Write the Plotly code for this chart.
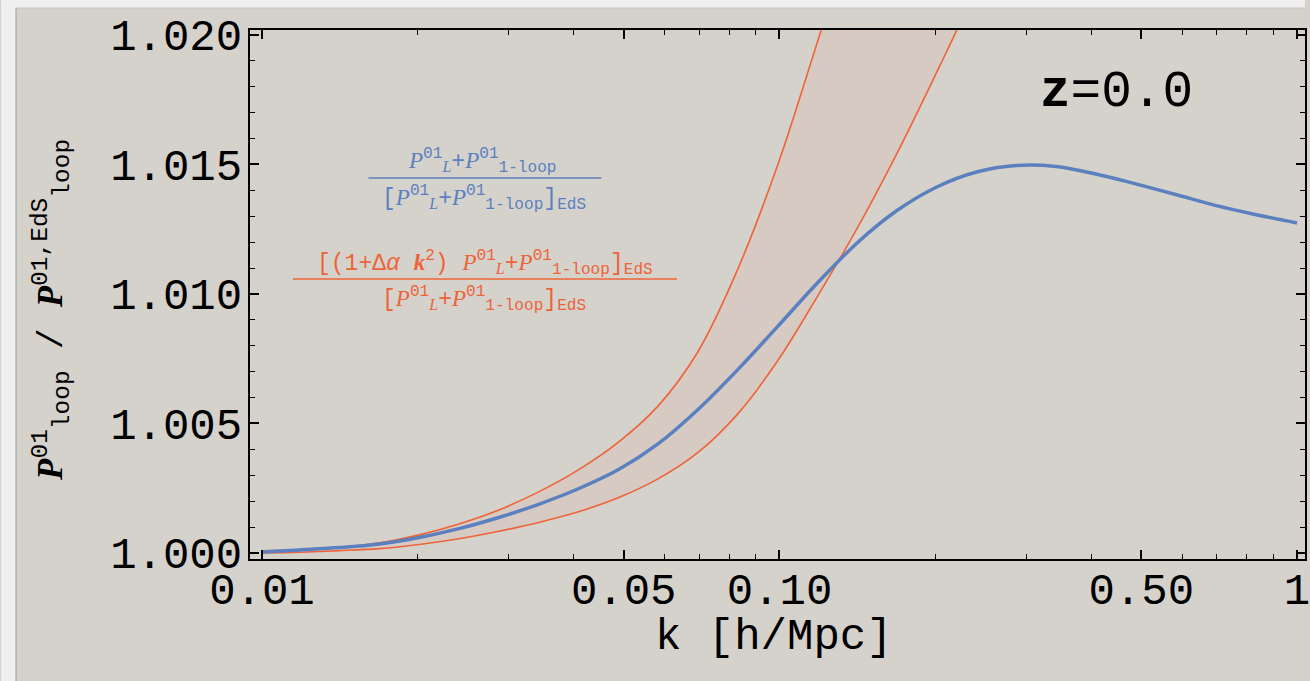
import plotly.graph_objects as go

# ---------------- data ----------------
k_blue = [0.01, 0.011834, 0.014125, 0.016865, 0.020131, 0.02403, 0.028683, 0.03424, 0.040871,
          0.048786, 0.058236, 0.069516, 0.082982, 0.099118, 0.11834, 0.14125, 0.16865, 0.20131,
          0.2403, 0.28683, 0.3424, 0.40871, 0.48786, 0.58236, 0.69516, 0.82982, 1.0]
r_blue = [1.00004, 1.00012, 1.00021, 1.00035, 1.0006, 1.00094, 1.00137, 1.00188, 1.00248,
          1.00321, 1.00421, 1.00553, 1.00707, 1.00874, 1.01042, 1.01197, 1.01322, 1.01413,
          1.01471, 1.01496, 1.01492, 1.01463, 1.01425, 1.01384, 1.01342, 1.01307, 1.01274]

k_upper = [0.01, 0.011834, 0.014125, 0.016865, 0.020131, 0.02403, 0.028683, 0.03424, 0.040871,
           0.048786, 0.058236, 0.069516, 0.082982, 0.099118, 0.11834, 0.12925]
r_upper = [1.00008, 1.00012, 1.00021, 1.00039, 1.0007, 1.00112, 1.00166, 1.00236, 1.00321,
           1.00427, 1.00567, 1.00776, 1.01094, 1.01496, 1.01972, 1.02211]

k_lower = [0.01, 0.011834, 0.014125, 0.016865, 0.020131, 0.02403, 0.028683, 0.03424, 0.040871,
           0.048786, 0.058236, 0.069516, 0.082982, 0.099118, 0.11834, 0.14125, 0.16865, 0.20131, 0.2403]
r_lower = [1.0, 1.00003, 1.00009, 1.00017, 1.00033, 1.00055, 1.00084, 1.00118, 1.00159,
           1.00213, 1.00286, 1.00387, 1.00536, 1.00741, 1.00990, 1.01253, 1.01543, 1.01856, 1.0218]

x_tickvals = [0.01, 0.05, 0.1, 0.5, 1.0]
x_ticktext = ["0.01", "0.05", "0.10", "0.50", "1"]
x_minor = [0.02, 0.03, 0.04, 0.06, 0.07, 0.08, 0.09, 0.2, 0.3, 0.4, 0.6, 0.7, 0.8, 0.9]
y_tickvals = [1.000, 1.005, 1.010, 1.015, 1.020]
y_ticktext = ["1.000", "1.005", "1.010", "1.015", "1.020"]

# ---------------- styling ----------------
BLUE = "#5b80bf"
ORANGE = "#ee6338"
BG = "#d5d2cc"
MONO = "Liberation Mono"
SERIF = "Liberation Serif"

W, H = 1310, 681
L, R, T, B = 250, 0, 30, 122
PW, PH = W - L - R, H - T - B


def px(x):
    return (x - L) / PW


def py(y):
    return (H - B - y) / PH


fig = go.Figure()

# shaded band between the orange curves
fig.add_trace(go.Scatter(
    x=k_upper + k_lower[::-1], y=r_upper + r_lower[::-1],
    fill="toself", fillcolor="rgba(236,140,110,0.10)", line=dict(width=0),
    mode="lines", hoverinfo="skip", showlegend=False))

spl = dict(shape="spline", smoothing=1.0)
fig.add_trace(go.Scatter(x=k_upper, y=r_upper, mode="lines",
                         line=dict(color=ORANGE, width=1.6, **spl), showlegend=False))
fig.add_trace(go.Scatter(x=k_lower, y=r_lower, mode="lines",
                         line=dict(color=ORANGE, width=1.6, **spl), showlegend=False))
fig.add_trace(go.Scatter(x=k_blue, y=r_blue, mode="lines",
                         line=dict(color=BLUE, width=3.5, **spl), showlegend=False))


def P(sup, sub):
    return (f"<span style='font-family:{SERIF}'><i>P</i></span>"
            f"<sup>{sup}</sup><sub>{sub}</sub>")


def PL():
    return (f"<span style='font-family:{SERIF}'><i>P</i></span>"
            f"<sup>01</sup><sub><span style='font-family:{SERIF}'><i>L</i></span></sub>")


blue_num = PL() + "+" + P("01", "1-loop")
blue_den = "[" + PL() + "+" + P("01", "1-loop") + "]<sub>EdS</sub>"
orange_num = ("[(1+Δ<i>α</i> <span style='font-family:" + SERIF + "'><b><i>k</i></b></span><sup>2</sup>) "
              + PL() + "+" + P("01", "1-loop") + "]<sub>EdS</sub>")
orange_den = blue_den

ann = []
fs = 23
ann.append(dict(x=px(484), y=py(161), text=blue_num, font=dict(family=MONO, size=fs, color=BLUE)))
ann.append(dict(x=px(485), y=py(198), text=blue_den, font=dict(family=MONO, size=fs, color=BLUE)))
ann.append(dict(x=px(486), y=py(263), text=orange_num, font=dict(family=MONO, size=fs, color=ORANGE)))
ann.append(dict(x=px(485), y=py(299), text=orange_den, font=dict(family=MONO, size=fs, color=ORANGE)))

# z label
ann.append(dict(x=px(1121), y=py(92), text="<b>z</b>=0.0", font=dict(family=MONO, size=51, color="black")))

# axis titles
ann.append(dict(x=px(776), y=py(637), text="k [h/Mpc]", font=dict(family=MONO, size=44, color="black")))
ytitle = (f"<span style='font-family:{SERIF}'><b><i>P</i></b></span><sup>01</sup><sub>loop</sub>"
          f" / <span style='font-family:{SERIF}'><b><i>P</i></b></span><sup>01,EdS</sup><sub>loop</sub>")
ann.append(dict(x=px(50), y=py(310), text=ytitle, textangle=-90, font=dict(family=MONO, size=35, color="black")))

for a in ann:
    a.update(xref="paper", yref="paper", showarrow=False, xanchor="center", yanchor="middle")

shapes = [
    # outer light border (left & top strip)
    dict(type="rect", xref="paper", yref="paper", x0=px(0), x1=px(15), y0=py(H), y1=py(0),
         fillcolor="#efefef", line=dict(width=0), layer="below"),
    dict(type="rect", xref="paper", yref="paper", x0=px(0), x1=px(W), y0=py(8), y1=py(0),
         fillcolor="#efefef", line=dict(width=0), layer="below"),
    dict(type="line", xref="paper", yref="paper", x0=px(15), x1=px(15), y0=py(H), y1=py(8),
         line=dict(color="#b0b0b0", width=1.5)),
    dict(type="line", xref="paper", yref="paper", x0=px(15), x1=px(W), y0=py(8), y1=py(8),
         line=dict(color="#c4c4c4", width=1)),
    # fraction bars
    dict(type="line", xref="paper", yref="paper", x0=px(369), x1=px(603), y0=py(178), y1=py(178),
         line=dict(color=BLUE, width=1.5)),
    dict(type="line", xref="paper", yref="paper", x0=px(293), x1=px(679), y0=py(279), y1=py(279),
         line=dict(color=ORANGE, width=1.5)),
]

axis_common = dict(showline=True, linecolor="black", linewidth=2, mirror="allticks",
                   ticks="inside", ticklen=9, tickwidth=1.5, tickcolor="black",
                   showgrid=False, zeroline=False, ticklabeloverflow="allow",
                   tickfont=dict(family=MONO, size=44, color="black"))

fig.update_layout(
    width=W, height=H,
    margin=dict(l=L, r=R, t=T, b=B, pad=0),
    paper_bgcolor=BG, plot_bgcolor=BG,
    xaxis=dict(type="log", range=[-2.0231, 0.0154], tickmode="array",
               tickvals=x_tickvals, ticktext=x_ticktext, ticklabelstandoff=-10,
               minor=dict(tickmode="array", tickvals=x_minor, ticks="inside", ticklen=5,
                          tickwidth=1, tickcolor="black"),
               **axis_common),
    yaxis=dict(range=[0.999768, 1.02019], tickmode="array",
               tickvals=y_tickvals, ticktext=y_ticktext, ticklabelstandoff=-3,
               minor=dict(dtick=0.001, tick0=1.0, ticks="inside", ticklen=5,
                          tickwidth=1, tickcolor="black"),
               **axis_common),
    annotations=ann, shapes=shapes,
)

fig.write_html("out.html")
